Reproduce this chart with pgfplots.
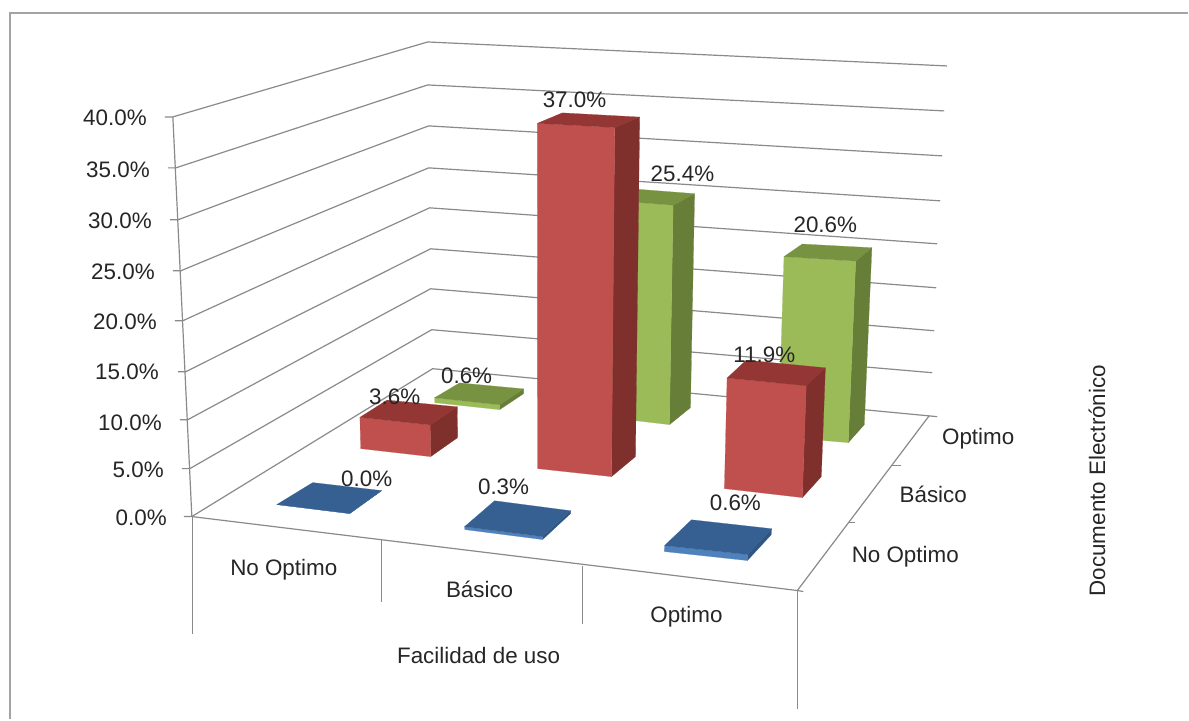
\documentclass[border=0pt]{standalone}
\usepackage{fontspec}
\setmainfont{Liberation Sans}
\usepackage{pgfplots}
\pgfplotsset{compat=1.18}

% bar face colours: front, top, side
\definecolor{redF}{HTML}{C0504D}\definecolor{redT}{HTML}{943634}\definecolor{redS}{HTML}{7F2F2C}
\definecolor{greenF}{HTML}{9BBB59}\definecolor{greenT}{HTML}{779341}\definecolor{greenS}{HTML}{667E37}
\definecolor{blueF}{HTML}{4F81BD}\definecolor{blueT}{HTML}{376092}\definecolor{blueS}{HTML}{2F5585}
\definecolor{gridc}{HTML}{8A8A8A}
\definecolor{framec}{HTML}{A3A3A3}
\definecolor{textc}{HTML}{262626}

\tikzset{lbl/.style={text=textc, font=\fontsize{22.4}{24}\selectfont, inner sep=0pt}}

% The floor is in screen units. A value lifts a floor corner (x,y) along the
% perspective verticals, which meet far below the picture.
\newcommand{\liftcorner}[4]{%
  \pgfmathsetmacro\liftH{(9.5+0.01227*(#2-517))*#3*(1+0.0013*#3)}%
  \expandafter\pgfmathsetmacro\csname #4x\endcsname{#1+(#1-544)/(7926-#2)*\liftH}%
  \expandafter\pgfmathsetmacro\csname #4y\endcsname{#2-\liftH}%
}
% floor footprint: front left, front right, back right, back left
\newcommand{\footprint}[8]{%
  \def\flx{#1}\def\fly{#2}\def\frx{#3}\def\fry{#4}%
  \def\brx{#5}\def\bry{#6}\def\blx{#7}\def\bly{#8}%
}
% \solidbar{value}{colour prefix}
\newcommand{\solidbar}[2]{%
  \liftcorner{\flx}{\fly}{#1}{tfl}%
  \liftcorner{\frx}{\fry}{#1}{tfr}%
  \liftcorner{\brx}{\bry}{#1}{tbr}%
  \liftcorner{\blx}{\bly}{#1}{tbl}%
  \addplot[fill=#2S,draw=#2S,line width=.2pt] coordinates
    {(\frx,\fry) (\brx,\bry) (\tbrx,\tbry) (\tfrx,\tfry)} -- cycle;
  \addplot[fill=#2F,draw=#2F,line width=.2pt] coordinates
    {(\flx,\fly) (\frx,\fry) (\tfrx,\tfry) (\tflx,\tfly)} -- cycle;
  \addplot[fill=#2T,draw=#2T,line width=.2pt] coordinates
    {(\tflx,\tfly) (\tfrx,\tfry) (\tbrx,\tbry) (\tblx,\tbly)} -- cycle;
}

\begin{document}
\begin{tikzpicture}
\begin{axis}[
  at={(0,0)}, anchor=south west,
  width=1189pt, height=720pt, scale only axis,
  xmin=0, xmax=1189, ymin=0, ymax=720, y dir=reverse,
  axis lines=none, clip=false,
  every axis plot/.append style={no marks, forget plot},
  grid line/.style={draw=gridc, line width=1.2pt},
]
% white chart area
\addplot[fill=white, draw=none] coordinates {(0,0) (1189,0) (1189,720) (0,720)} -- cycle;
% chart frame, open at the right and at the bottom
\addplot[draw=framec, line width=2pt] coordinates {(10,720) (10,13) (1189,13)};

% wall gridlines at each 5% step, with their tick on the value axis
\addplot[grid line] coordinates {(165,117) (173,117) (428,42) (948,66)};
\addplot[grid line] coordinates {(168,168) (176,168) (428,85) (945,111)};
\addplot[grid line] coordinates {(170,220) (178,220) (429,126) (943,156)};
\addplot[grid line] coordinates {(173,271) (181,271) (429,168) (941,201)};
\addplot[grid line] coordinates {(175,321) (183,321) (430,208) (938,244)};
\addplot[grid line] coordinates {(178,372) (186,372) (431,249) (937,288)};
\addplot[grid line] coordinates {(180,420) (188,420) (431,289) (935,331)};
\addplot[grid line] coordinates {(182,469) (190,469) (432,330) (933,373)};
\addplot[grid line] coordinates {(184,517) (192,517) (433,369) (938,417)};
% value axis
\addplot[grid line] coordinates {(173,117) (192,517)};
% floor edges and their ticks
\addplot[grid line] coordinates {(192,517) (798,591) (930,416)};
\addplot[grid line] coordinates {(193,517) (193,635)};
\addplot[grid line] coordinates {(382,540) (382,602)};
\addplot[grid line] coordinates {(583,566) (583,625)};
\addplot[grid line] coordinates {(798,591) (798,710)};
\addplot[grid line] coordinates {(798,591) (804,592)};
\addplot[grid line] coordinates {(893,466) (902,466)};
\addplot[grid line] coordinates {(850,523) (856,523)};

% back row
\footprint{435}{403}{500}{410}{524}{394}{460}{388}\solidbar{0.6}{green}
\footprint{602}{417}{670}{425}{691}{408}{623}{400}\solidbar{25.4}{green}
\footprint{779}{437}{849}{443}{865}{425}{797}{420}\solidbar{20.6}{green}
% middle row
\footprint{361}{449}{431}{457}{458}{438}{388}{431}\solidbar{3.6}{red}
\footprint{538}{469}{612}{477}{636}{457}{562}{449}\solidbar{37.0}{red}
\footprint{725}{489}{803}{498}{822}{477}{744}{468}\solidbar{11.9}{red}
% front row
\footprint{277}{505}{350}{514}{382}{491}{313}{483}\solidbar{0.0}{blue}
\footprint{465}{530}{543}{540}{571}{514}{495}{504}\solidbar{0.3}{blue}
\footprint{665}{552}{748}{561}{772}{535}{692}{526}\solidbar{0.6}{blue}

% value axis labels
\node[lbl,anchor=east] at (axis cs:147,118) {40.0\%};
\node[lbl,anchor=east] at (axis cs:150,170) {35.0\%};
\node[lbl,anchor=east] at (axis cs:152,221) {30.0\%};
\node[lbl,anchor=east] at (axis cs:155,272) {25.0\%};
\node[lbl,anchor=east] at (axis cs:157,322) {20.0\%};
\node[lbl,anchor=east] at (axis cs:159,372) {15.0\%};
\node[lbl,anchor=east] at (axis cs:162,423) {10.0\%};
\node[lbl,anchor=east] at (axis cs:164,470) {5.0\%};
\node[lbl,anchor=east] at (axis cs:167,518) {0.0\%};

% bar values
\node[lbl] at (axis cs:575,100) {37.0\%};
\node[lbl] at (axis cs:683,174) {25.4\%};
\node[lbl] at (axis cs:826,225) {20.6\%};
\node[lbl] at (axis cs:765,355) {11.9\%};
\node[lbl] at (axis cs:395,397) {3.6\%};
\node[lbl] at (axis cs:467,376) {0.6\%};
\node[lbl] at (axis cs:367,479) {0.0\%};
\node[lbl] at (axis cs:504,487) {0.3\%};
\node[lbl] at (axis cs:736,503) {0.6\%};

% category labels and axis titles
\node[lbl] at (axis cs:284,570) {No Optimo};
\node[lbl] at (axis cs:480,590) {Básico};
\node[lbl] at (axis cs:687,617) {Optimo};
\node[lbl] at (axis cs:479,656) {Facilidad de uso};
\node[lbl] at (axis cs:979,439) {Optimo};
\node[lbl] at (axis cs:934,495) {Básico};
\node[lbl] at (axis cs:906,557) {No Optimo};
\node[lbl,rotate=90] at (axis cs:1098,481) {Documento Electrónico};
\end{axis}
\end{tikzpicture}
\end{document}
